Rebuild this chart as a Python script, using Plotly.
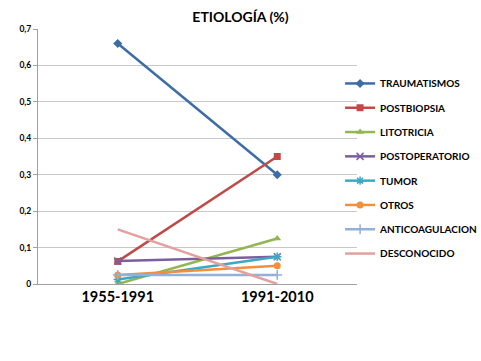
import plotly.graph_objects as go

categories = ["1955-1991", "1991-2010"]
series_names = ["TRAUMATISMOS", "POSTBIOPSIA", "LITOTRICIA", "POSTOPERATORIO",
                "TUMOR", "OTROS", "ANTICOAGULACION", "DESCONOCIDO"]
traumatismos = [0.66, 0.30]
postbiopsia = [0.062, 0.35]
litotricia = [0.0, 0.125]
postoperatorio = [0.063, 0.075]
tumor = [0.0125, 0.075]
otros = [0.025, 0.05]
anticoagulacion = [0.025, 0.025]
desconocido = [0.15, 0.0]
y_tickvals = [0, 0.1, 0.2, 0.3, 0.4, 0.5, 0.6, 0.7]
y_ticktext = ["0", "0,1", "0,2", "0,3", "0,4", "0,5", "0,6", "0,7"]

values = [traumatismos, postbiopsia, litotricia, postoperatorio, tumor, otros,
          anticoagulacion, desconocido]
colors = ["#3D6DA6", "#BE4B48", "#93B653", "#7B5E9F", "#3EA8C2", "#F08F3E",
          "#93B0D6", "#E2A09E"]
symbols = ["diamond", "square", "triangle-up", "x-thin", "asterisk", "circle",
           "cross-thin", "line-ew"]

fig = go.Figure()
for i, (name, vals) in enumerate(zip(series_names, values)):
    sym = symbols[i]
    thin = sym.endswith("thin") or sym in ("asterisk", "line-ew")
    fig.add_trace(go.Scatter(
        x=categories, y=vals, name="<b>" + name + "</b>",
        mode="lines+markers" if i < 7 else "lines",
        legendgroup=name,
        line=dict(color=colors[i], width=2.5),
        marker=dict(symbol=sym, size=7, color=colors[i],
                    line=dict(color=colors[i], width=1.5 if thin else 0)),
    ))

fig.update_layout(
    width=481, height=361,
    margin=dict(l=38, r=124, t=29, b=77, autoexpand=False),
    paper_bgcolor="white", plot_bgcolor="white",
    font=dict(family="Lato, Open Sans, sans-serif", color="black"),
    title=dict(text="<b>ETIOLOGÍA (%)</b>", x=0.5, xanchor="center", y=0.953,
               yanchor="middle", font=dict(size=14)),
    showlegend=True,
    legend=dict(xref="container", yref="container", x=0.707, xanchor="left",
                y=0.809, yanchor="top", maxheight=300,
                font=dict(size=10), tracegroupgap=5.3, itemwidth=30,
                traceorder="grouped", bgcolor="rgba(0,0,0,0)"),
    xaxis=dict(type="category", range=[-0.5, 1.5], showgrid=False, showline=True,
               linecolor="#A0A0A0", linewidth=1, ticks="",
               tickfont=dict(size=14.5, family="Lato, sans-serif"),
               tickprefix="<b>", ticksuffix="</b>"),
    yaxis=dict(range=[0, 0.7], tickvals=y_tickvals,
               ticktext=["<b>" + t + "</b>" for t in y_ticktext],
               showgrid=True, gridcolor="#C8C8C8", gridwidth=1,
               showline=True, linecolor="#A0A0A0", linewidth=1,
               ticks="outside", ticklen=4, tickcolor="#A0A0A0",
               tickfont=dict(size=8.5), zeroline=False),
)

fig.write_html("out.html", config={"displayModeBar": False},
               post_script="document.body.style.margin='0';")
